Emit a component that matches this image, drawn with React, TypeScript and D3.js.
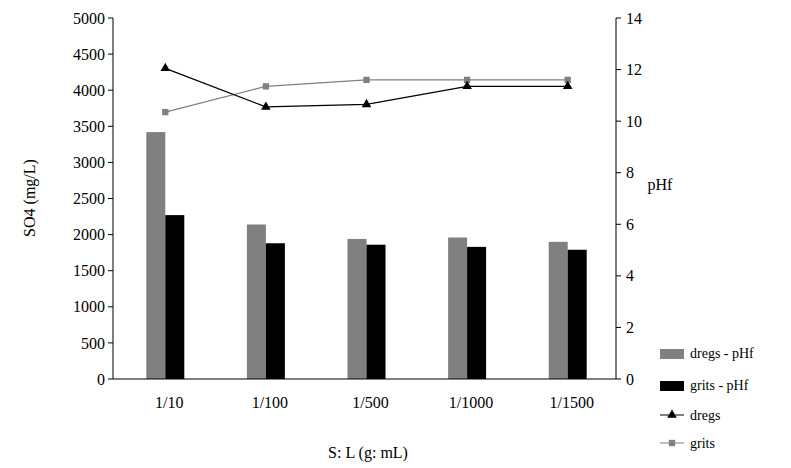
import React from 'react';
import * as d3 from 'd3';

const categories = ['1/10', '1/100', '1/500', '1/1000', '1/1500'];
const dregsBar = [3420, 2140, 1940, 1960, 1900];
const gritsBar = [2270, 1880, 1860, 1830, 1790];
const dregsLine = [12.05, 10.55, 10.65, 11.35, 11.35];
const gritsLine = [10.35, 11.35, 11.6, 11.6, 11.6];
const leftTicks = d3.range(0, 5001, 500);
const rightTicks = d3.range(0, 15, 2);

const W = 791, H = 468;
const left = 113, right = 616, top = 18, bottom = 379;
const font = 'Liberation Serif, Times New Roman, serif';

export default function App() {
  const x = d3.scaleBand().domain(categories).range([left, right]);
  const yL = d3.scaleLinear().domain([0, 5000]).range([bottom, top]);
  const yR = d3.scaleLinear().domain([0, 14]).range([bottom, top]);
  const bw = 19;
  const cx = (c: string) => x(c)! + x.bandwidth() / 2 + 2;
  const line = (vals: number[]) =>
    d3.line<number>().x((_, i) => cx(categories[i])).y(v => yR(v))(vals)!;
  const tri = d3.symbol(d3.symbolTriangle, 40)()!;
  const sq = d3.symbol(d3.symbolSquare, 40)()!;

  return (
    <svg width={W} height={H} style={{ position: 'absolute', left: 0, top: 0, background: '#fff' }} fontFamily={font}>
      {categories.map((c, i) => (
        <g key={c}>
          <rect x={cx(c) - bw} y={yL(dregsBar[i])} width={bw} height={bottom - yL(dregsBar[i])} fill="#808080" />
          <rect x={cx(c)} y={yL(gritsBar[i])} width={bw} height={bottom - yL(gritsBar[i])} fill="#000" />
        </g>
      ))}
      <path d={line(gritsLine)} fill="none" stroke="#808080" strokeWidth={1.3} />
      <path d={line(dregsLine)} fill="none" stroke="#000" strokeWidth={1.3} />
      {gritsLine.map((v, i) => (
        <path key={'g' + i} d={sq} transform={`translate(${cx(categories[i])},${yR(v)})`} fill="#808080" />
      ))}
      {dregsLine.map((v, i) => (
        <path key={'d' + i} d={tri} transform={`translate(${cx(categories[i])},${yR(v)})`} fill="#000" />
      ))}
      <line x1={left} x2={left} y1={top} y2={bottom} stroke="#000" />
      <line x1={right} x2={right} y1={top} y2={bottom} stroke="#000" />
      <line x1={left} x2={right} y1={bottom} y2={bottom} stroke="#000" />
      {leftTicks.map(t => (
        <g key={t}>
          <line x1={left - 5} x2={left} y1={yL(t)} y2={yL(t)} stroke="#000" />
          <text x={left - 8} y={yL(t)} dy="0.35em" textAnchor="end" fontSize={16}>{t}</text>
        </g>
      ))}
      {rightTicks.map(t => (
        <g key={t}>
          <line x1={right} x2={right + 5} y1={yR(t)} y2={yR(t)} stroke="#000" />
          <text x={right + 10} y={yR(t)} dy="0.35em" fontSize={16}>{t}</text>
        </g>
      ))}
      {categories.map(c => (
        <text key={c} x={cx(c) + 4} y={bottom + 29} textAnchor="middle" fontSize={16}>{c}</text>
      ))}
      <text transform="translate(35,198) rotate(-90)" textAnchor="middle" fontSize={16}>SO4 (mg/L)</text>
      <text x={660} y={190} textAnchor="middle" fontSize={16}>pHf</text>
      <text x={368} y={458} textAnchor="middle" fontSize={16}>S: L (g: mL)</text>
      <g fontSize={14}>
        <rect x={660} y={349} width={24} height={10} fill="#808080" />
        <text x={690} y={358}>dregs - pHf</text>
        <rect x={660} y={381} width={24} height={10} fill="#000" />
        <text x={690} y={390}>grits - pHf</text>
        <line x1={660} x2={684} y1={415} y2={415} stroke="#000" />
        <path d={tri} transform="translate(672,415)" fill="#000" />
        <text x={690} y={420}>dregs</text>
        <line x1={660} x2={684} y1={443} y2={443} stroke="#808080" />
        <path d={sq} transform="translate(672,443)" fill="#808080" />
        <text x={690} y={448}>grits</text>
      </g>
    </svg>
  );
}
